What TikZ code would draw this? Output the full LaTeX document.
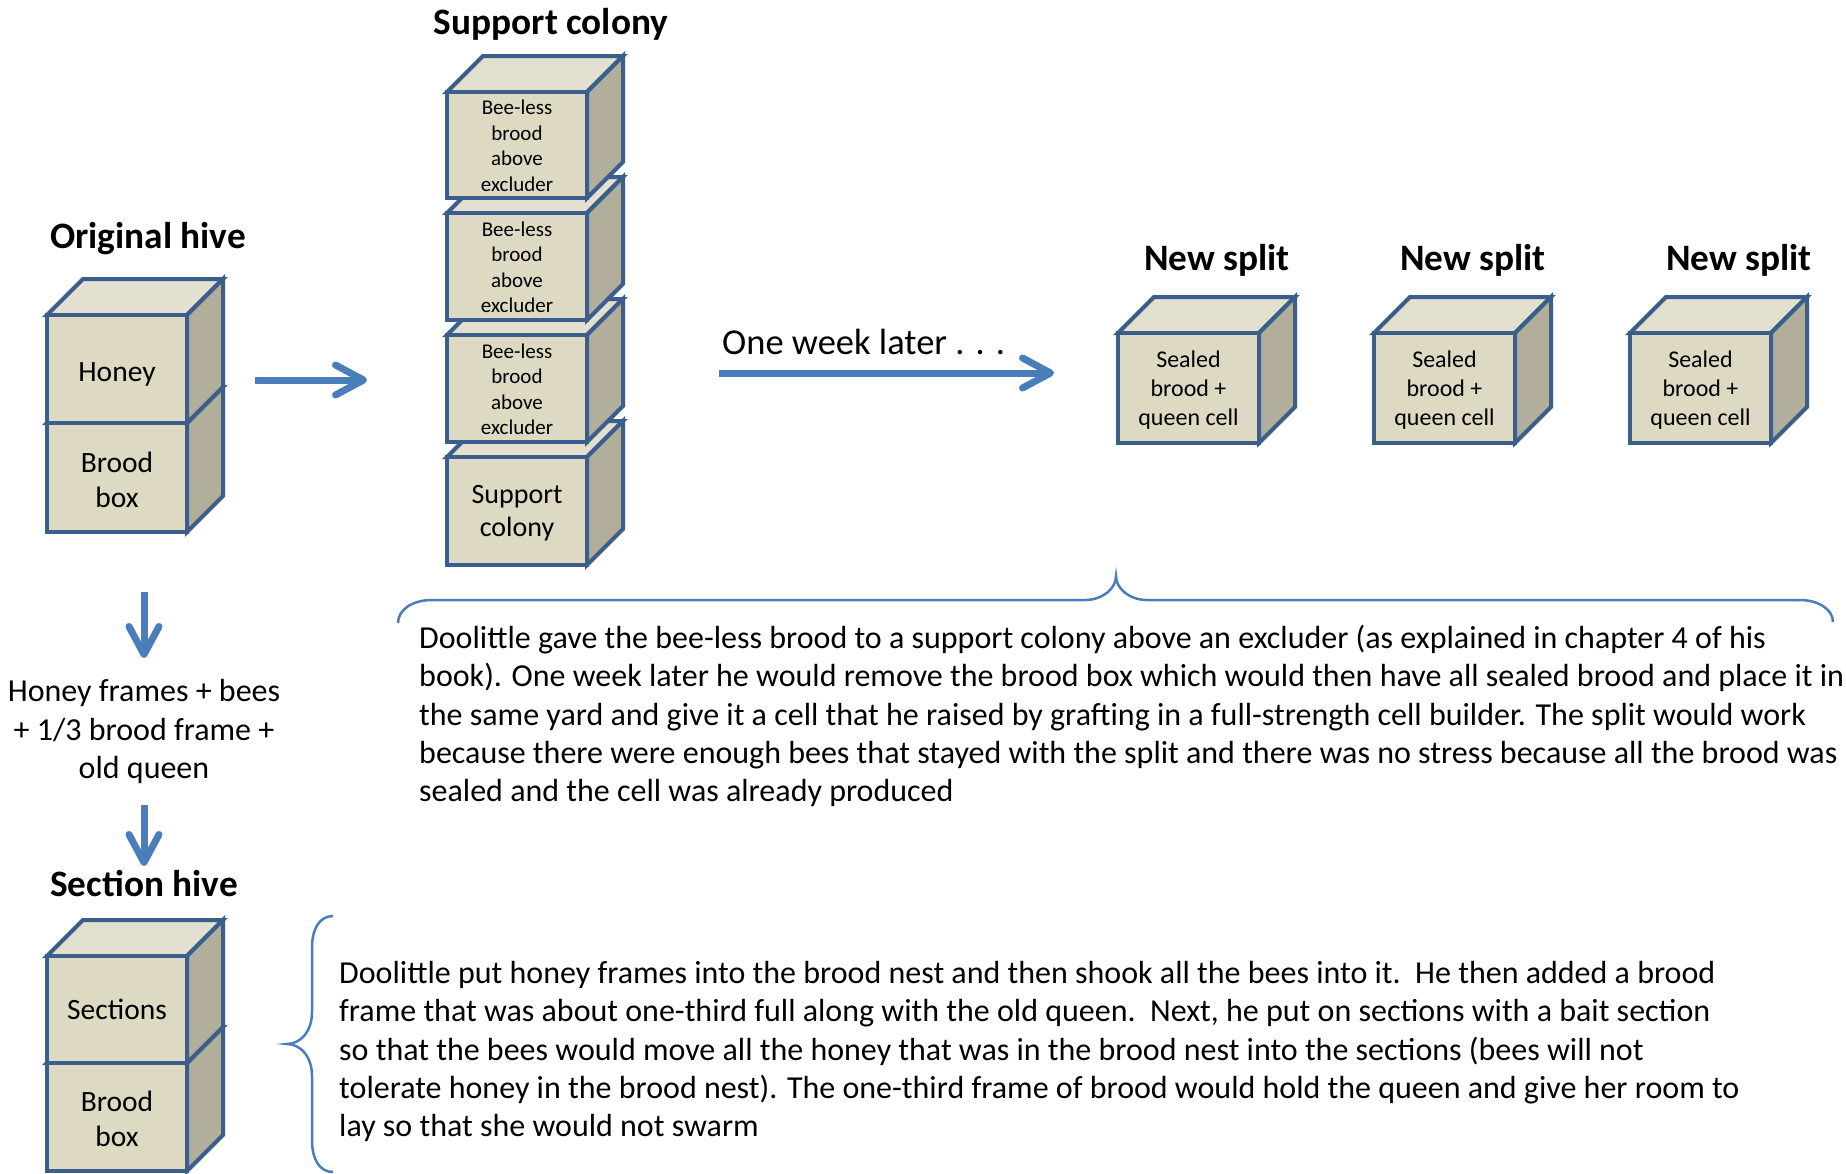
\documentclass[tikz,border=0pt]{standalone}
\usepackage{fontspec}
\setmainfont{Carlito}
\usetikzlibrary{arrows.meta}
\definecolor{topc}{HTML}{E3E0CF}
\definecolor{frontc}{HTML}{DDD9C3}
\definecolor{sidec}{HTML}{B1AE9B}
\definecolor{edgec}{HTML}{3B5E8C}
\definecolor{arrowc}{HTML}{4A7EBB}
\tikzset{
 cubeline/.style={draw=edgec, line width=4pt, line join=miter},
 cubetext/.style={inner sep=0pt, align=center, text=black},
 bluearrow/.style={draw=arrowc, line width=7pt, -{Straight Barb[length=28pt,width=30pt,round]}},
 bracel/.style={draw=arrowc, line width=2.5pt},
 title/.style={font=\fontsize{37.3}{44}\selectfont\bfseries, anchor=base, inner sep=0pt},
 bodytext/.style={font=\fontsize{32}{38.3}\selectfont, align=left, anchor=north west, inner sep=0pt},
}
\newcommand{\drawcube}[8]{% name, x, y, w, h, font, text, text yshift
  \path[cubeline, fill=topc] (#2,#3) -- ++(36,-36) -- ++(#4,0) -- ++(-36,36) -- cycle;
  \path[cubeline, fill=sidec] ({#2+#4},#3) -- ++(36,-36) -- ++(0,#5) -- ++(-36,36) -- cycle;
  \path[cubeline, fill=frontc] (#2,#3) rectangle ++(#4,#5);
  \node[cubetext, font=#6] (#1) at ({#2+#4/2},{#3+#5/2+#8}) {#7};
}
\newcommand{\bigcube}{\fontsize{29.5}{35}\selectfont}
\newcommand{\beecube}{\fontsize{21}{25.5}\selectfont}
\newcommand{\splitcube}{\fontsize{24}{29}\selectfont}
\begin{document}
\begin{tikzpicture}[x=1pt,y=-1pt]
\useasboundingbox (0,0) rectangle (1846,1173);
\fill[white] (0,0) rectangle (1846,1173);

% Original hive
\drawcube{obrood}{47}{423}{140}{109}{\bigcube}{Brood\\box}{2}
\drawcube{ohoney}{47}{315}{140}{108}{\bigcube}{Honey}{5}
\node[title] (tori) at (148,248) {Original hive};

% Support colony stack
\drawcube{sup}{447}{457}{140}{108}{\fontsize{28}{33}\selectfont}{Support\\colony}{2.5}
\drawcube{bl3}{447}{335}{140}{107}{\beecube}{Bee-less\\brood\\above\\excluder}{1}
\drawcube{bl2}{447}{213}{140}{107}{\beecube}{Bee-less\\brood\\above\\excluder}{1}
\drawcube{bl1}{447}{92}{140}{106}{\beecube}{Bee-less\\brood\\above\\excluder}{1}
\node[title] (tsup) at (551,34) {Support colony};

% New splits
\drawcube{ns1}{1118}{333}{141}{110}{\splitcube}{Sealed\\brood +\\queen cell}{2}
\drawcube{ns2}{1374}{333}{141}{110}{\splitcube}{Sealed\\brood +\\queen cell}{2}
\drawcube{ns3}{1630}{333}{141}{110}{\splitcube}{Sealed\\brood +\\queen cell}{2}
\node[title] (tns1) at (1217,270) {New split};
\node[title] (tns2) at (1473,270) {New split};
\node[title] (tns3) at (1739,270) {New split};

% Section hive
\drawcube{sbrood}{47}{1063}{140}{108}{\bigcube}{Brood\\box}{2}
\drawcube{ssect}{47}{956}{140}{107}{\bigcube}{Sections}{0}
\node[title] (tsec) at (144,896) {Section hive};

% Arrows
\coordinate (a1s) at (255,380);
\coordinate (a1e) at (367,380);
\draw[bluearrow] (a1s) -- (a1e);
\coordinate (a2s) at (719,373);
\coordinate (a2e) at (1054,373);
\draw[bluearrow] (a2s) -- (a2e);
\node[anchor=base west, inner sep=0pt, font=\fontsize{36.5}{43}\selectfont] (owl) at (722,354) {One week later . . .};
\coordinate (d1s) at (144,592);
\coordinate (d1e) at (144,658);
\draw[bluearrow] (d1s) -- (d1e);
\coordinate (d2s) at (144,805);
\coordinate (d2e) at (144,866);
\draw[bluearrow] (d2s) -- (d2e);

\node[align=center, anchor=north, inner sep=0pt, font=\fontsize{32}{38.5}\selectfont] (hf) at (144,679.5)
 {Honey frames + bees\\+ 1/3 brood frame +\\old queen};

% Braces
\draw[bracel] (398,623) .. controls (398,610) and (412,600) .. (432,600) -- (1085,600)
  .. controls (1102,600) and (1116,589) .. (1116,576)
  .. controls (1116,589) and (1130,600) .. (1147,600) -- (1800,600)
  .. controls (1819,600) and (1833,610) .. (1833,622);
\draw[bracel] (333,916) .. controls (320,916) and (312,928) .. (312,948) -- (312,1012)
  .. controls (312,1032) and (300,1044) .. (287,1044)
  .. controls (300,1044) and (312,1056) .. (312,1076) -- (312,1140)
  .. controls (312,1160) and (320,1172) .. (333,1172);

% Body texts
\node[bodytext] (txt1) at (419,625) {Doolittle gave the bee-less brood to a support colony above an excluder (as explained in chapter 4 of his\\
book). One week later he would remove the brood box which would then have all sealed brood and place it in\\
the same yard and give it a cell that he raised by grafting in a full-strength cell builder. The split would work\\
because there were enough bees that stayed with the split and there was no stress because all the brood was\\
sealed and the cell was already produced};
\node[bodytext] (txt2) at (339,961) {Doolittle put honey frames into the brood nest and then shook all the bees into it.\ \ He then added a brood\\
frame that was about one-third full along with the old queen.\ \ Next, he put on sections with a bait section\\
so that the bees would move all the honey that was in the brood nest into the sections (bees will not\\
tolerate honey in the brood nest). The one-third frame of brood would hold the queen and give her room to\\
lay so that she would not swarm};
\end{tikzpicture}
\end{document}
